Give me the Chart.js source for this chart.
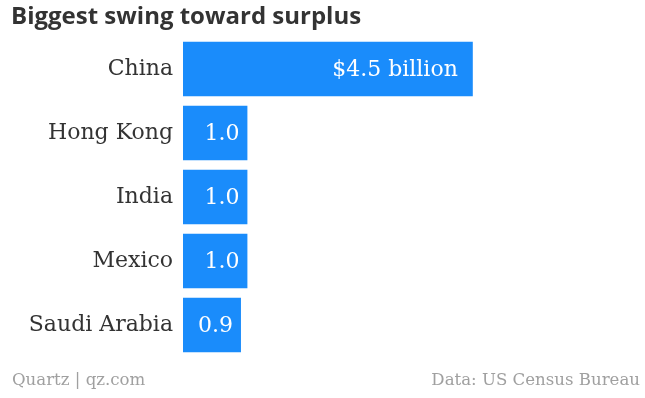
<!DOCTYPE html>
<html>
<head>
<meta charset="utf-8">
<script src="https://cdn.jsdelivr.net/npm/chart.js@4/dist/chart.umd.min.js"></script>
<style>
html,body{margin:0;padding:0;background:#fff;}
#wrap{position:relative;width:645px;height:398px;}
</style>
</head>
<body>
<div id="wrap"><canvas id="c" width="645" height="398"></canvas></div>
<script>
const categories = ["China", "Hong Kong", "India", "Mexico", "Saudi Arabia"];
const values = [4.5, 1.0, 1.0, 1.0, 0.9];
const valueLabels = ["$4.5 billion", "1.0", "1.0", "1.0", "0.9"];
const titleText = "Biggest swing toward surplus";
const sourceLeft = "Quartz | qz.com";
const sourceRight = "Data: US Census Bureau";

const SERIF = "'DejaVu Serif', 'Liberation Serif', serif";

const textPlugin = {
  id: 'texts',
  afterDatasetsDraw(chart) {
    const ctx = chart.ctx;
    const meta = chart.getDatasetMeta(0);
    ctx.save();
    ctx.font = "22px " + SERIF;
    ctx.fillStyle = "#ffffff";
    ctx.textAlign = "right";
    ctx.textBaseline = "middle";
    meta.data.forEach((bar, i) => {
      const pad = i === 0 ? 15 : 8;
      ctx.fillText(valueLabels[i], bar.x - pad, bar.y + 1);
    });
    ctx.restore();
  },
  afterDraw(chart) {
    const ctx = chart.ctx;
    ctx.save();
    ctx.fillStyle = "#333333";
    ctx.font = "bold 24px 'Open Sans', Lato, sans-serif";
    ctx.textAlign = "left";
    ctx.textBaseline = "middle";
    ctx.fillText(titleText, 11, 17);
    ctx.fillStyle = "#a0a0a0";
    ctx.font = "16.6px " + SERIF;
    ctx.fillText(sourceLeft, 12, 381);
    ctx.textAlign = "right";
    ctx.fillText(sourceRight, 640, 381);
    ctx.restore();
  }
};

new Chart(document.getElementById('c'), {
  type: 'bar',
  data: {
    labels: categories,
    datasets: [{
      data: values,
      backgroundColor: '#1a8cfb',
      borderWidth: 0,
      barPercentage: 0.85,
      categoryPercentage: 1.0
    }]
  },
  options: {
    indexAxis: 'y',
    responsive: false,
    animation: false,
    devicePixelRatio: 1,
    layout: { padding: { top: 37, bottom: 41, left: 0, right: 140 } },
    plugins: { legend: { display: false }, tooltip: { enabled: false } },
    scales: {
      x: { min: 0, max: 5, display: false },
      y: {
        grid: { display: false, drawBorder: false, tickLength: 0 },
        border: { display: false },
        ticks: {
          color: '#333333',
          font: { family: SERIF, size: 22 },
          padding: 10
        },
        afterFit(scale) { scale.width = 183; }
      }
    }
  },
  plugins: [textPlugin]
});
</script>
</body>
</html>
